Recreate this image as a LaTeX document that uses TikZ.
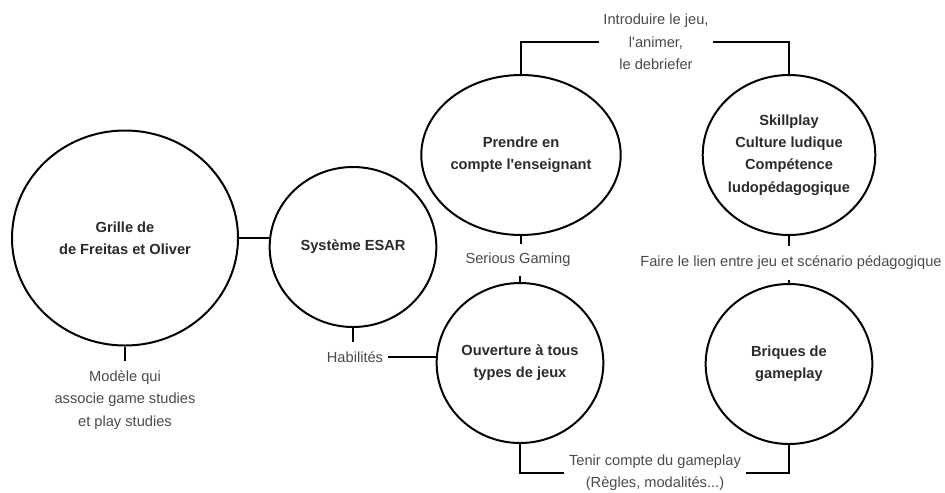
\documentclass[tikz,border=0pt]{standalone}
\usepackage{fontspec}
\setmainfont{Liberation Sans}
\usepackage{tikz}
\usetikzlibrary{shapes.geometric}
\usepackage{xcolor}

\definecolor{notegray}{HTML}{4A4A4A}
\definecolor{bubbletext}{HTML}{2A2A2A}
\tikzset{
  bubble/.style={shape=ellipse,draw=black,line width=1.7pt,minimum width=5cm,minimum height=4.8cm,inner sep=0pt,align=center,text=bubbletext,font=\fontsize{12.5}{19}\selectfont\bfseries},
  note/.style={align=center,text=notegray,inner xsep=4pt,inner ysep=8pt,font=\fontsize{12.5}{19}\selectfont},
  link/.style={draw=black,line width=1.7pt}
}

\begin{document}
\begin{tikzpicture}[x=0.03cm,y=-0.03cm]
        \useasboundingbox (0,0) rectangle (945,492);

        \node[bubble,minimum width=6.78cm,minimum height=6.45cm] (grille) at (125,238) {Grille de\\de Freitas et Oliver};
        \node[bubble] (esar) at (353,247) {Système ESAR};
        \node[bubble] (prendre) at (521,155) {Prendre en\\compte l\textquotesingle enseignant};
        \node[bubble] (ouvert) at (520,363) {Ouverture à tous\\types de jeux};
        \node[bubble] (skill) at (789,155) {Skillplay\\Culture ludique\\Compétence\\ludopédagogique};
        \node[bubble] (briques) at (789,364) {Briques de\\gameplay};

        \node[note] (modele) at (125,400) {Modèle qui\\associe game studies\\et play studies};
        \node[note] (habil) at (355,357) {Habilités};
        \node[note] (serious) at (518,260) {Serious Gaming};
        \node[note] (intro) at (656,42) {Introduire le jeu,\\l\textquotesingle animer,\\le debriefer};
        \node[note] (faire) at (791,263) {Faire le lien entre jeu et scénario pédagogique};
        \node[note] (tenir) at (655,473) {Tenir compte du gameplay\\(Règles, modalités...)};

        \path [link] (grille.east) -- (grille.east -| esar.west);
        \path [link] (grille.south) -- (grille.south |- modele.north);
        \path [link] (esar.south) -- (esar.south |- habil.north);
        \path [link] (habil.east) -- (habil.east -| ouvert.west);
        \path [link] (prendre.south) -- (prendre.south |- serious.north);
        \path [link] (serious.south -| ouvert.north) -- (ouvert.north);
        \path [link] (intro.west) -| (prendre.north);
        \path [link] (intro.east) -| (skill.north);
        \path [link] (skill.south) -- (skill.south |- faire.north);
        \path [link] (faire.south -| briques.north) -- (briques.north);
        \path [link] (ouvert.south) |- (tenir.west);
        \path [link] (tenir.east) -| (briques.south);
    \end{tikzpicture}
\end{document}
